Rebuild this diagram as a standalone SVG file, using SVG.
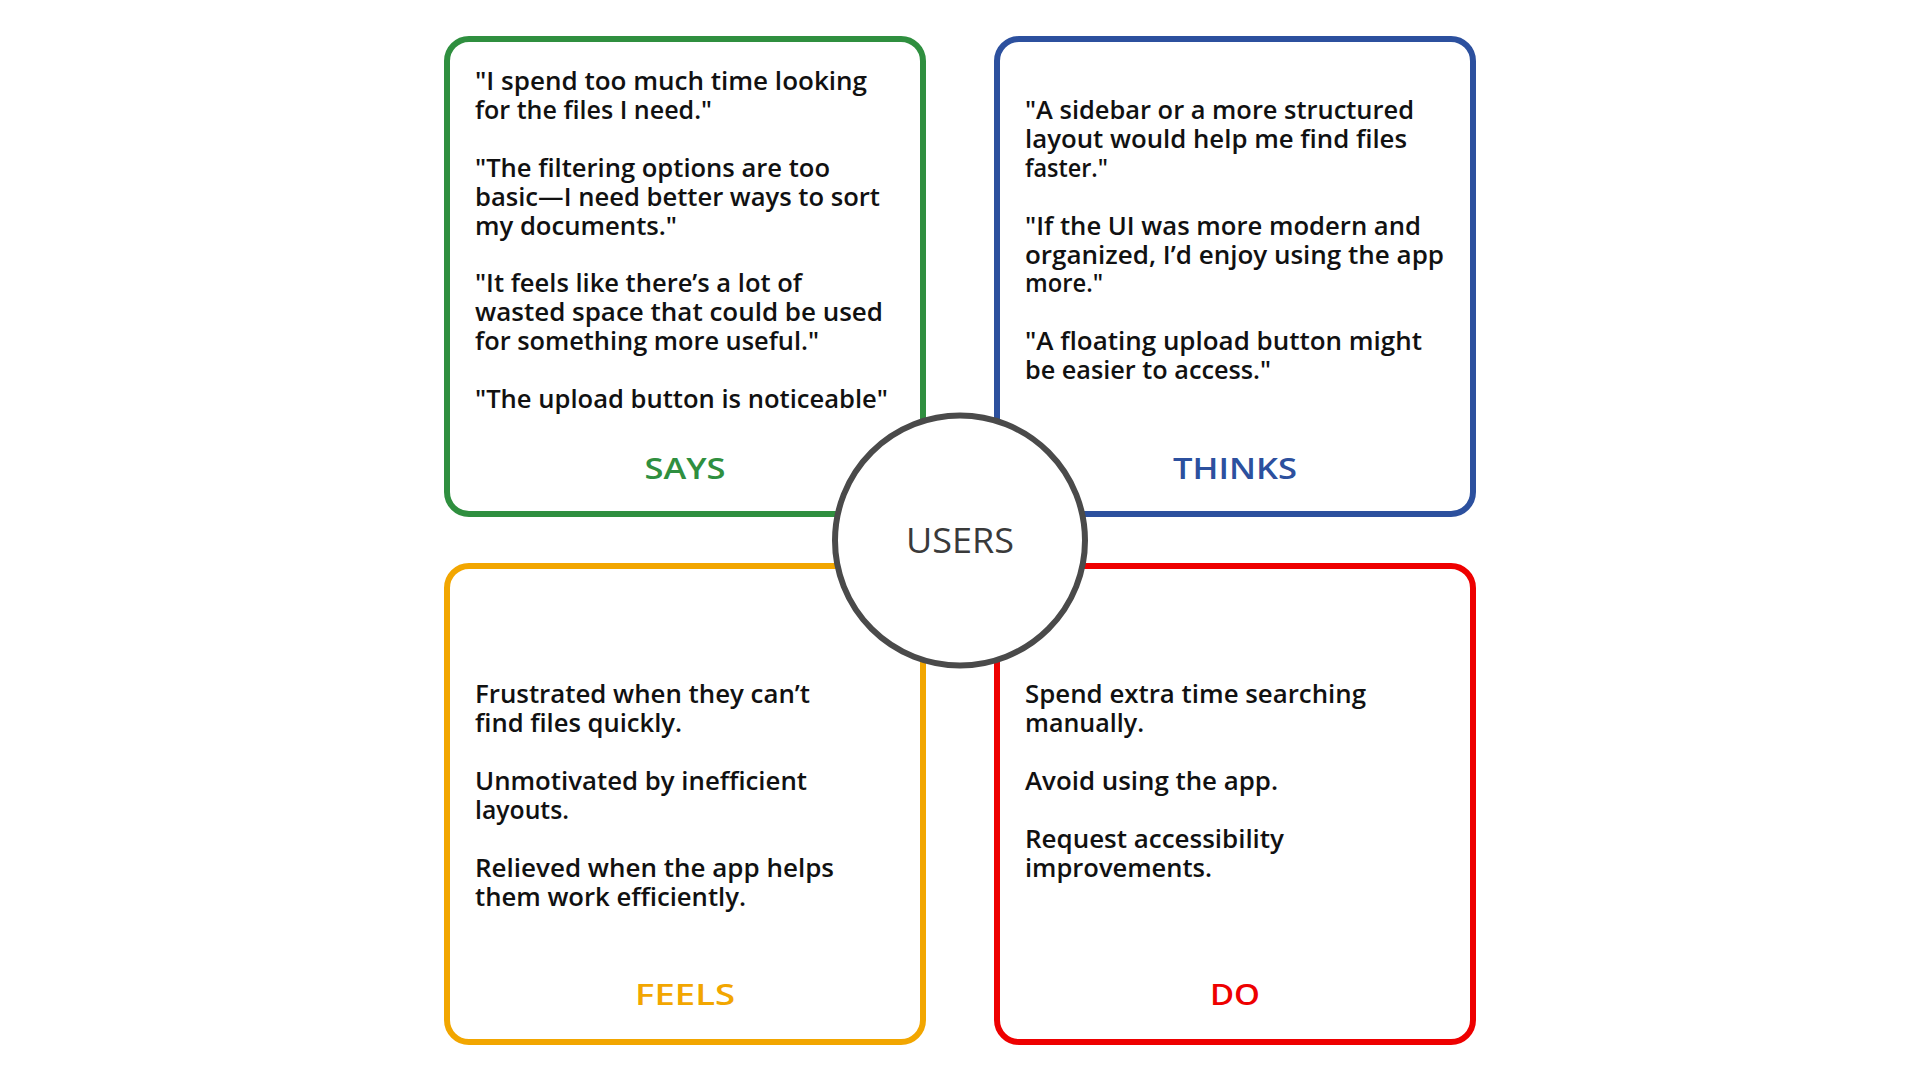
<svg xmlns="http://www.w3.org/2000/svg" width="1920" height="1080" viewBox="0 0 1920 1080">
<style>
.box{fill:#fff;stroke-width:6}
.body{font-family:"Open Sans","Liberation Sans",sans-serif;font-weight:600;font-size:26px;fill:#111}
.lbl{font-family:"Open Sans","Liberation Sans",sans-serif;font-weight:600;font-size:28px;text-anchor:middle}
</style>
<rect width="1920" height="1080" fill="#fff"/>
<g id="says">
<rect class="box" x="447" y="39" width="476" height="475" rx="22" stroke="#2f8f3f"/>
<g class="body">
<text x="475" y="90" textLength="392" lengthAdjust="spacingAndGlyphs">"I spend too much time looking</text>
<text x="475" y="119" textLength="237" lengthAdjust="spacingAndGlyphs">for the files I need."</text>
<text x="475" y="177" textLength="355" lengthAdjust="spacingAndGlyphs">"The filtering options are too</text>
<text x="475" y="206" textLength="405" lengthAdjust="spacingAndGlyphs">basic—I need better ways to sort</text>
<text x="475" y="235" textLength="202" lengthAdjust="spacingAndGlyphs">my documents."</text>
<text x="475" y="292" textLength="327" lengthAdjust="spacingAndGlyphs">"It feels like there’s a lot of</text>
<text x="475" y="321" textLength="408" lengthAdjust="spacingAndGlyphs">wasted space that could be used</text>
<text x="475" y="350" textLength="344" lengthAdjust="spacingAndGlyphs">for something more useful."</text>
<text x="475" y="408" textLength="413" lengthAdjust="spacingAndGlyphs">"The upload button is noticeable"</text>
</g>
<text class="lbl" x="685" y="479" fill="#2f8f3f" textLength="81" lengthAdjust="spacingAndGlyphs">SAYS</text>
</g>
<g id="thinks">
<rect class="box" x="997" y="39" width="476" height="475" rx="22" stroke="#2c509e"/>
<g class="body">
<text x="1025" y="119" textLength="389" lengthAdjust="spacingAndGlyphs">"A sidebar or a more structured</text>
<text x="1025" y="148" textLength="382" lengthAdjust="spacingAndGlyphs">layout would help me find files</text>
<text x="1025" y="177" textLength="83" lengthAdjust="spacingAndGlyphs">faster."</text>
<text x="1025" y="235" textLength="396" lengthAdjust="spacingAndGlyphs">"If the UI was more modern and</text>
<text x="1025" y="264" textLength="419" lengthAdjust="spacingAndGlyphs">organized, I’d enjoy using the app</text>
<text x="1025" y="292" textLength="78" lengthAdjust="spacingAndGlyphs">more."</text>
<text x="1025" y="350" textLength="397" lengthAdjust="spacingAndGlyphs">"A floating upload button might</text>
<text x="1025" y="379" textLength="246" lengthAdjust="spacingAndGlyphs">be easier to access."</text>
</g>
<text class="lbl" x="1235" y="479" fill="#2c509e" textLength="124" lengthAdjust="spacingAndGlyphs">THINKS</text>
</g>
<g id="feels">
<rect class="box" x="447" y="566" width="476" height="476" rx="22" stroke="#f2a600"/>
<g class="body">
<text x="475" y="703" textLength="335" lengthAdjust="spacingAndGlyphs">Frustrated when they can’t</text>
<text x="475" y="732" textLength="207" lengthAdjust="spacingAndGlyphs">find files quickly.</text>
<text x="475" y="790" textLength="332" lengthAdjust="spacingAndGlyphs">Unmotivated by inefficient</text>
<text x="475" y="819" textLength="94" lengthAdjust="spacingAndGlyphs">layouts.</text>
<text x="475" y="877" textLength="359" lengthAdjust="spacingAndGlyphs">Relieved when the app helps</text>
<text x="475" y="906" textLength="271" lengthAdjust="spacingAndGlyphs">them work efficiently.</text>
</g>
<text class="lbl" x="685" y="1005" fill="#f2a600" textLength="100" lengthAdjust="spacingAndGlyphs">FEELS</text>
</g>
<g id="do">
<rect class="box" x="997" y="566" width="476" height="476" rx="22" stroke="#ee0000"/>
<g class="body">
<text x="1025" y="703" textLength="341" lengthAdjust="spacingAndGlyphs">Spend extra time searching</text>
<text x="1025" y="732" textLength="119" lengthAdjust="spacingAndGlyphs">manually.</text>
<text x="1025" y="790" textLength="253" lengthAdjust="spacingAndGlyphs">Avoid using the app.</text>
<text x="1025" y="848" textLength="259" lengthAdjust="spacingAndGlyphs">Request accessibility</text>
<text x="1025" y="877" textLength="187" lengthAdjust="spacingAndGlyphs">improvements.</text>
</g>
<text class="lbl" x="1235" y="1005" fill="#ee0000" textLength="50" lengthAdjust="spacingAndGlyphs">DO</text>
</g>
<g id="users">
<circle cx="960" cy="540.5" r="125" fill="#fff" stroke="#4a4a4a" stroke-width="6"/>
<text x="960" y="553" text-anchor="middle" font-family="'Open Sans','Liberation Sans',sans-serif" font-weight="500" font-size="34" fill="#3a3a3a" textLength="108" lengthAdjust="spacingAndGlyphs">USERS</text>
</g>
<g id="connectors"/>
</svg>
